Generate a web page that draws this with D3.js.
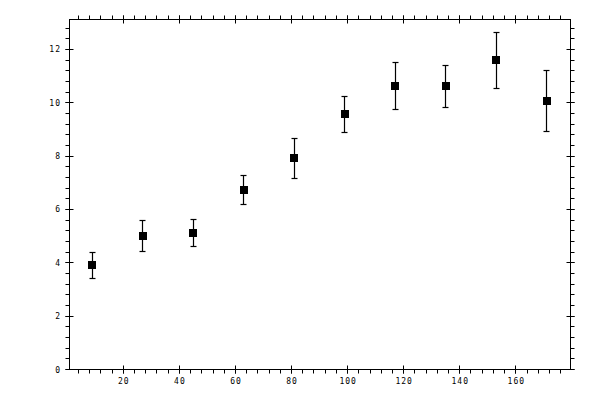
<!DOCTYPE html>
<html>
<head>
<meta charset="utf-8">
<script src="https://cdn.jsdelivr.net/npm/d3@7"></script>
<style>
html,body{margin:0;padding:0;background:#fff;}
svg{display:block;}
text{font-family:"DejaVu Sans Mono",monospace;font-size:8px;fill:#000;letter-spacing:1px;}
</style>
</head>
<body>
<svg id="chart" width="600" height="400"></svg>
<script>
const xValues = [9, 27, 45, 63, 81, 99, 117, 135, 153, 171];
const yValues = [3.90, 5.00, 5.12, 6.72, 7.92, 9.57, 10.62, 10.62, 11.59, 10.05];
const yErrors = [0.48, 0.57, 0.51, 0.55, 0.75, 0.68, 0.88, 0.79, 1.05, 1.14];
const xMajorTicks = [20, 40, 60, 80, 100, 120, 140, 160];
const yMajorTicks = [0, 2, 4, 6, 8, 10, 12];
const xMinorTicks = d3.range(4, 180, 4);
const yMinorTicks = d3.range(0, 13.1, 0.4).map(v => +v.toFixed(1));

const L = 69.5, R = 570.5, T = 19.5, B = 369.5;
const x = d3.scaleLinear().domain([0.8, 179.5]).range([L, R]);
const y = d3.scaleLinear().domain([0, 13.12]).range([B, T]);

const svg = d3.select("#chart");
const g = svg.append("g");

g.append("rect").attr("x", L).attr("y", T).attr("width", R - L).attr("height", B - T)
  .attr("fill", "none").attr("stroke", "#000").attr("stroke-width", 1);

const crisp = v => Math.round(v - 0.5) + 0.5;
const minorLen = 4, majorLen = 4;

function hTicks(yPos, dir) {
  xMinorTicks.forEach(t => {
    const px = crisp(x(t));
    g.append("line").attr("x1", px).attr("x2", px).attr("y1", yPos).attr("y2", yPos + dir * minorLen)
      .attr("stroke", "#000");
  });
  xMajorTicks.forEach(t => {
    const px = crisp(x(t));
    g.append("line").attr("x1", px).attr("x2", px).attr("y1", yPos - dir * majorLen).attr("y2", yPos + dir * majorLen)
      .attr("stroke", "#000");
  });
}
function vTicks(xPos, dir) {
  yMinorTicks.forEach(t => {
    const py = crisp(y(t));
    g.append("line").attr("y1", py).attr("y2", py).attr("x1", xPos).attr("x2", xPos + dir * minorLen)
      .attr("stroke", "#000");
  });
  yMajorTicks.forEach(t => {
    const py = crisp(y(t));
    g.append("line").attr("y1", py).attr("y2", py).attr("x1", xPos - dir * majorLen).attr("x2", xPos + dir * majorLen)
      .attr("stroke", "#000");
  });
}
hTicks(B, 1);
hTicks(T, -1);
vTicks(L, -1);
vTicks(R, 1);

g.selectAll(".xl").data(xMajorTicks).enter().append("text")
  .attr("x", d => x(d) + 0.5).attr("y", 384).attr("text-anchor", "middle").text(d => d);
g.selectAll(".yl").data(yMajorTicks).enter().append("text")
  .attr("x", 61).attr("y", d => y(d) + 3).attr("text-anchor", "end").text(d => d);

const pts = xValues.map((xv, i) => ({x: xv, y: yValues[i], e: yErrors[i]}));
const cap = 3;
pts.forEach(p => {
  const px = crisp(x(p.x));
  const y1 = y(p.y + p.e), y2 = y(p.y - p.e);
  g.append("line").attr("x1", px).attr("x2", px).attr("y1", y1).attr("y2", y2).attr("stroke", "#000").attr("stroke-width", 1.2);
  g.append("line").attr("x1", px - cap).attr("x2", px + cap).attr("y1", crisp(y1)).attr("y2", crisp(y1)).attr("stroke", "#000").attr("stroke-width", 1.2);
  g.append("line").attr("x1", px - cap).attr("x2", px + cap).attr("y1", crisp(y2)).attr("y2", crisp(y2)).attr("stroke", "#000").attr("stroke-width", 1.2);
});
const s = 8;
g.selectAll(".pt").data(pts).enter().append("rect")
  .attr("x", d => Math.round(x(d.x)) - s / 2).attr("y", d => Math.round(y(d.y)) - s / 2)
  .attr("width", s).attr("height", s).attr("fill", "#000");
</script>
</body>
</html>
